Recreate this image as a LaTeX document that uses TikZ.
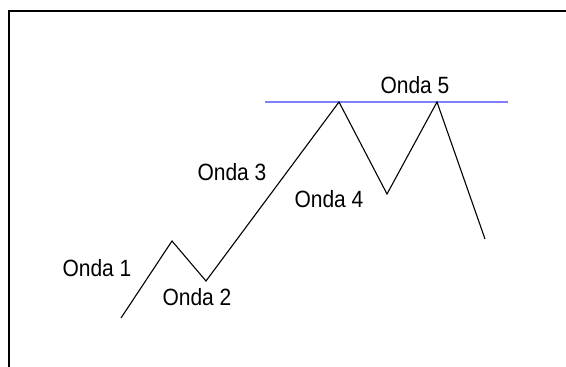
\documentclass[tikz,border=0pt]{standalone}
\usepackage{fontspec}
\setmainfont{Liberation Sans}
\definecolor{resist}{RGB}{128,128,255}
\newcommand{\tallt}[1]{\scalebox{1}[1.12]{#1}}
\begin{document}
\begin{tikzpicture}[x=1pt,y=-1pt,
  lbl/.style={font=\fontsize{21}{24}\selectfont, inner sep=0pt},
  wave/.style={line width=1.1pt, black, line join=miter}]
\useasboundingbox (0,0) rectangle (566,367);
\draw[line width=2.2pt] (9,367) -- (9,11) -- (566,11);
\draw[resist, line width=1.2pt] (265,102) -- (508,102);
\coordinate (p0) at (121,318);
\coordinate (p1) at (172,241);
\coordinate (p2) at (206,281);
\coordinate (p3) at (339,102);
\coordinate (p4) at (387,194);
\coordinate (p5) at (437,102);
\coordinate (p6) at (485,239);
\draw[wave] (p0) -- (p1) -- (p2) -- (p3) -- (p4) -- (p5) -- (p6);
\node[lbl] (o1) at (97,268) {\tallt{Onda 1}};
\node[lbl] (o2) at (197,297) {\tallt{Onda 2}};
\node[lbl] (o3) at (232,172) {\tallt{Onda 3}};
\node[lbl] (o4) at (329,199) {\tallt{Onda 4}};
\node[lbl] (o5) at (415,85) {\tallt{Onda 5}};
\end{tikzpicture}
\end{document}
